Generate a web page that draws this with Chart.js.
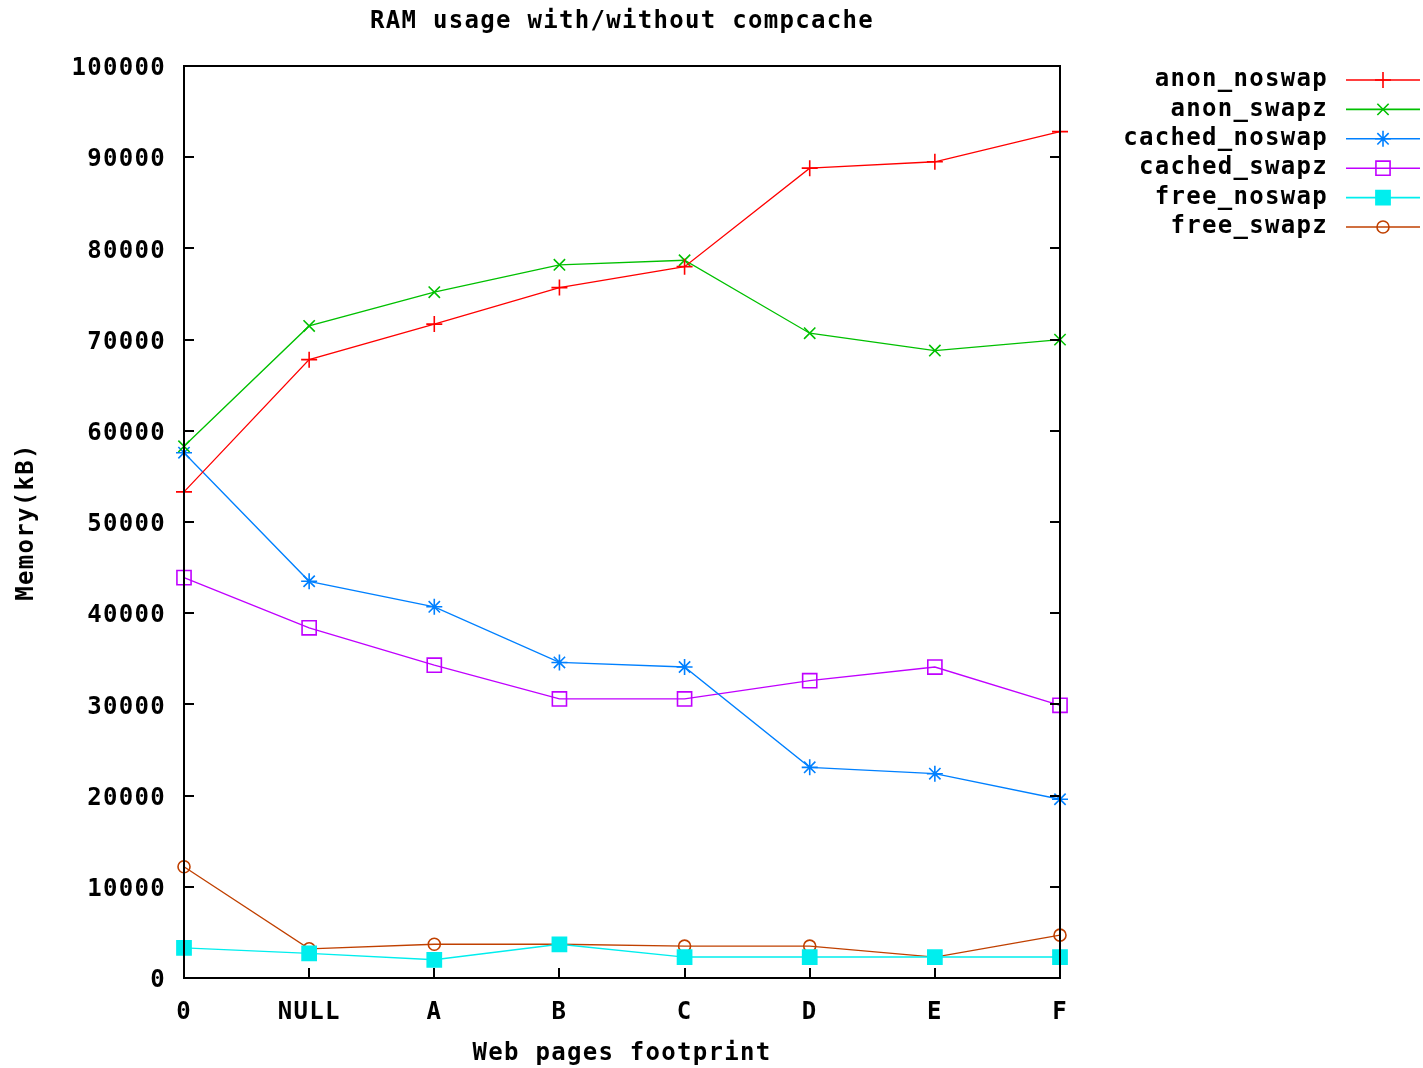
<!DOCTYPE html>
<html lang="en">
<head>
  <meta charset="UTF-8">
  <title>RAM usage with/without compcache</title>
  <script src="https://cdn.jsdelivr.net/npm/chart.js"></script>
  <style>
    html, body { margin: 0; padding: 0; background: #fff; }
    #box { width: 1423px; height: 1068px; }
  </style>
</head>
<body>
  <div id="box"><canvas id="ram" width="1423" height="1068"></canvas></div>
  <script>
    const pages = ['0', 'NULL', 'A', 'B', 'C', 'D', 'E', 'F'];
    const anonNoswap   = [53300, 67800, 71700, 75700, 78000, 88800, 89500, 92800];
    const anonSwapz    = [58300, 71500, 75200, 78200, 78700, 70700, 68800, 70000];
    const cachedNoswap = [57600, 43500, 40700, 34600, 34100, 23100, 22400, 19600];
    const cachedSwapz  = [43900, 38400, 34300, 30600, 30600, 32600, 34100, 29900];
    const freeNoswap   = [3300, 2700, 2000, 3700, 2300, 2300, 2300, 2300];
    const freeSwapz    = [12200, 3200, 3700, 3700, 3500, 3500, 2300, 4700];

    const FONT = '"DejaVu Sans Mono", "Liberation Mono", monospace';
    const SPACING = '1.3px';

    function serie(label, data, color, style, radius, filled) {
      return {
        label: label,
        data: data,
        borderColor: color,
        backgroundColor: filled ? color : 'rgba(0,0,0,0)',
        borderWidth: 1.3,
        pointStyle: style,
        pointRadius: radius,
        pointBorderWidth: 1.6,
        pointBorderColor: color,
        pointBackgroundColor: filled ? color : 'rgba(0,0,0,0)',
        tension: 0,
        fill: false
      };
    }

    // testo un po' più largo, come il font bitmap di gnuplot
    const wideText = {
      id: 'wideText',
      beforeUpdate(chart) { chart.ctx.letterSpacing = SPACING; },
      beforeDraw(chart) { chart.ctx.letterSpacing = SPACING; }
    };

    // cornice, tacche interne, titolo e legenda in stile gnuplot
    const gnuplotFrame = {
      id: 'gnuplotFrame',
      afterDraw(chart) {
        const ctx = chart.ctx;
        const a = chart.chartArea;
        const ys = chart.scales.y;
        const xs = chart.scales.x;
        ctx.save();
        ctx.letterSpacing = SPACING;
        ctx.strokeStyle = '#000';
        ctx.lineWidth = 2;
        ctx.strokeRect(a.left, a.top, a.right - a.left, a.bottom - a.top);
        ctx.beginPath();
        ys.ticks.forEach(t => {
          const y = Math.round(ys.getPixelForValue(t.value));
          ctx.moveTo(a.left, y); ctx.lineTo(a.left + 10, y);
          ctx.moveTo(a.right, y); ctx.lineTo(a.right - 10, y);
        });
        pages.forEach((p, i) => {
          const x = Math.round(xs.getPixelForValue(i));
          ctx.moveTo(x, a.bottom); ctx.lineTo(x, a.bottom - 10);
        });
        ctx.stroke();

        ctx.fillStyle = '#000';
        ctx.font = 'bold 24px ' + FONT;
        ctx.textAlign = 'center';
        ctx.textBaseline = 'middle';
        ctx.fillText('RAM usage with/without compcache', (a.left + a.right) / 2, 22);

        // legenda
        chart.data.datasets.forEach((ds, i) => {
          const y = 80 + i * 29.4;
          ctx.fillStyle = '#000';
          ctx.textAlign = 'right';
          ctx.fillText(ds.label, 1328, y);
          ctx.strokeStyle = ds.borderColor;
          ctx.lineWidth = 1.6;
          ctx.beginPath();
          ctx.moveTo(1346, y); ctx.lineTo(1420, y);
          ctx.stroke();
          ctx.lineWidth = ds.pointBorderWidth;
          ctx.fillStyle = ds.pointBackgroundColor;
          Chart.helpers.drawPoint(ctx, {pointStyle: ds.pointStyle, radius: ds.pointRadius, rotation: 0, borderWidth: ds.pointBorderWidth}, 1383, y);
        });
        ctx.restore();
      }
    };

    new Chart(document.getElementById('ram'), {
      type: 'line',
      data: {
        labels: pages,
        datasets: [
          serie('anon_noswap', anonNoswap, '#ff0000', 'cross', 8, false),
          serie('anon_swapz', anonSwapz, '#00c000', 'crossRot', 8, false),
          serie('cached_noswap', cachedNoswap, '#0080ff', 'star', 8, false),
          serie('cached_swapz', cachedSwapz, '#c000ff', 'rect', 10, false),
          serie('free_noswap', freeNoswap, '#00eeee', 'rect', 10, true),
          serie('free_swapz', freeSwapz, '#c04000', 'circle', 6, false)
        ]
      },
      options: {
        responsive: false,
        animation: false,
        layout: { padding: { left: 8, top: 66, right: 363, bottom: 0 } },
        plugins: {
          legend: { display: false },
          tooltip: { enabled: false }
        },
        scales: {
          x: {
            offset: false,
            grid: { display: false },
            border: { display: false },
            ticks: { color: '#000', padding: 12, font: { family: FONT, size: 24, weight: 'bold' } },
            title: {
              display: true, text: 'Web pages footprint', color: '#000',
              font: { family: FONT, size: 24, weight: 'bold' }, padding: { top: 2, bottom: 0 }
            },
            afterFit(scale) { scale.height = 90; }
          },
          y: {
            min: 0, max: 100000,
            grid: { display: false },
            border: { display: false },
            ticks: {
              stepSize: 10000, color: '#000', padding: 10, labelOffset: 3,
              font: { family: FONT, size: 24, weight: 'bold' },
              callback: v => String(v)
            },
            title: {
              display: true, text: 'Memory(kB)', color: '#000',
              font: { family: FONT, size: 24, weight: 'bold' }, padding: { top: 4, bottom: 4 }
            },
            afterFit(scale) { scale.width = 176; }
          }
        }
      },
      plugins: [wideText, gnuplotFrame]
    });
  </script>
</body>
</html>
